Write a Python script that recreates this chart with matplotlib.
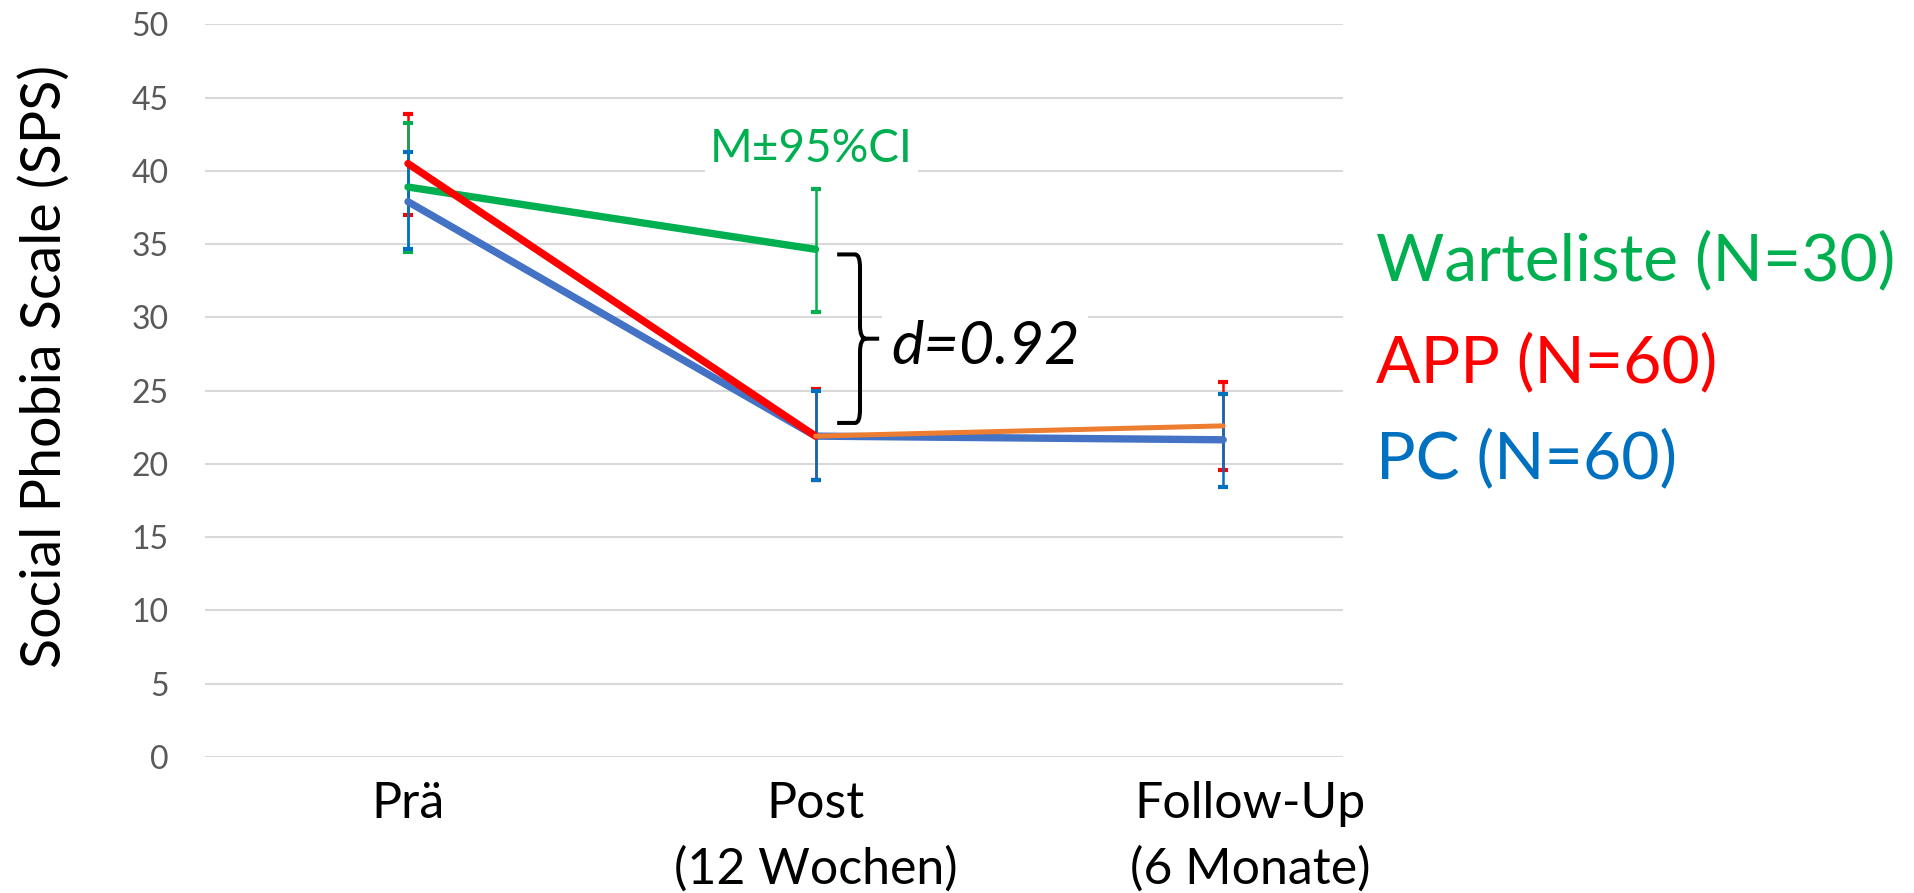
import matplotlib
matplotlib.use("Agg")
import matplotlib.pyplot as plt
import matplotlib.transforms as mtrans
from matplotlib.path import Path
from matplotlib.patches import PathPatch
import numpy as np

# ---- data ----
categories = ["Prä", "Post\n(12 Wochen)", "Follow-Up\n(6 Monate)"]
yticks = [0, 5, 10, 15, 20, 25, 30, 35, 40, 45, 50]

wl_mean = [38.9, 34.65]
wl_low = [34.45, 30.35]
wl_high = [43.25, 38.8]

app_mean = [40.5, 21.9, 22.6]
app_low = [37.0, 18.9, 19.6]
app_high = [43.9, 25.1, 25.6]

pc_mean = [37.9, 21.9, 21.65]
pc_low = [34.7, 18.9, 18.45]
pc_high = [41.3, 25.0, 24.8]

legend_labels = ["Warteliste (N=30)", "APP (N=60)", "PC (N=60)"]
ci_label = "M±95%CI"
effect_label = "d=0.92"
ylabel = "Social Phobia Scale (SPS)"

GREEN = "#00B050"
RED = "#FF0000"
BLUE_LINE = "#4472C4"
BLUE_ERR = "#0070C0"
ORANGE = "#ED7D31"
FONT = "Lato"

fig = plt.figure(figsize=(19.14, 8.93), dpi=100)
ax = fig.add_axes([205/1914, 1-757/893, (1343-205)/1914, (757-24.4)/893])

x = np.arange(len(categories))

def errs(mean, low, high):
    m = np.array(mean); return np.vstack([m - np.array(low), np.array(high) - m])

# error bars
ek = dict(fmt="none", elinewidth=1.8, capsize=3.4, capthick=3.0)
ax.errorbar(x, app_mean, yerr=errs(app_mean, app_low, app_high), ecolor=RED, zorder=3, **ek)
ax.errorbar(x[:2], wl_mean, yerr=errs(wl_mean, wl_low, wl_high), ecolor=GREEN, zorder=3.1, **ek)
ax.errorbar(x, pc_mean, yerr=errs(pc_mean, pc_low, pc_high), ecolor=BLUE_ERR, zorder=3.2, **ek)

# lines
ax.plot(x, pc_mean, color=BLUE_LINE, lw=5.3, solid_capstyle="round", zorder=4)
ax.plot(x[:2], wl_mean, color=GREEN, lw=5.3, solid_capstyle="round", zorder=4.1)
ax.plot(x[:2], app_mean[:2], color=RED, lw=5.3, solid_capstyle="round", zorder=4.2)
ax.plot(x[1:], app_mean[1:], color=ORANGE, lw=3.6, solid_capstyle="round", zorder=4.3)

ax.set_xlim(-0.498, 2.294)
ax.set_ylim(0, 50)
ax.set_yticks(yticks)
ax.set_yticklabels([str(t) for t in yticks], fontsize=23, color="#595959",
                   fontfamily=FONT)
ax.set_xticks(x)
ax.set_xticklabels(categories, fontsize=36, fontfamily=FONT, linespacing=1.52)
ax.tick_params(axis="both", length=0)
ax.tick_params(axis="y", pad=26)
ax.tick_params(axis="x", pad=17)
# last category label sits slightly right of its tick, as in the source
lbl = ax.get_xticklabels()[2]
lbl.set_transform(lbl.get_transform() +
                  mtrans.ScaledTranslation(0.27, 0, fig.dpi_scale_trans))
for s in ax.spines.values():
    s.set_visible(False)
ax.grid(axis="y", color="#D9D9D9", lw=1.5)
ax.set_axisbelow(True)

ax.set_ylabel(ylabel, fontsize=40, fontfamily=FONT)
ax.yaxis.set_label_coords(-0.118, 0.533)

# annotations
ax.text(0.99, 41.5, ci_label, color=GREEN, fontsize=33, fontfamily=FONT,
        ha="center", va="center", zorder=5,
        bbox=dict(facecolor="white", edgecolor="none", pad=4))

# curly bracket between Warteliste and APP at Post
top = wl_mean[1] - 0.35
bot = app_mean[1] + 0.9
mid = (top + bot) / 2
x0, x1, xt = 1.053, 1.109, 1.156
r = 0.9
verts = [(x0, top), (x1 - 0.012, top), (x1, top), (x1, top - r),
         (x1, mid + r), (x1, mid), (x1 + 0.015, mid), (xt, mid),
         (x1 + 0.015, mid), (x1, mid), (x1, mid - r),
         (x1, bot + r), (x1, bot), (x1 - 0.012, bot), (x0, bot)]
codes = [Path.MOVETO, Path.LINETO, Path.CURVE3, Path.CURVE3,
         Path.LINETO, Path.CURVE3, Path.CURVE3, Path.LINETO,
         Path.MOVETO, Path.CURVE3, Path.CURVE3,
         Path.LINETO, Path.CURVE3, Path.CURVE3, Path.LINETO]
ax.add_patch(PathPatch(Path(verts, codes), fill=False, edgecolor="black", lw=2.9,
                       zorder=5, capstyle="butt", joinstyle="round"))

ax.text(1.185, mid - 0.6, effect_label, color="black", fontsize=44, fontfamily=FONT,
        style="italic", ha="left", va="center", zorder=5,
        bbox=dict(facecolor="white", edgecolor="none", pad=6))

# right-hand legend text
for lab, col, yb in zip(legend_labels, [GREEN, RED, BLUE_ERR], [280, 382, 478]):
    fig.text(1376/1914, 1 - yb/893, lab, color=col, fontsize=47.5, fontfamily=FONT,
             ha="left", va="baseline")

fig.savefig("out.png", dpi=100)
